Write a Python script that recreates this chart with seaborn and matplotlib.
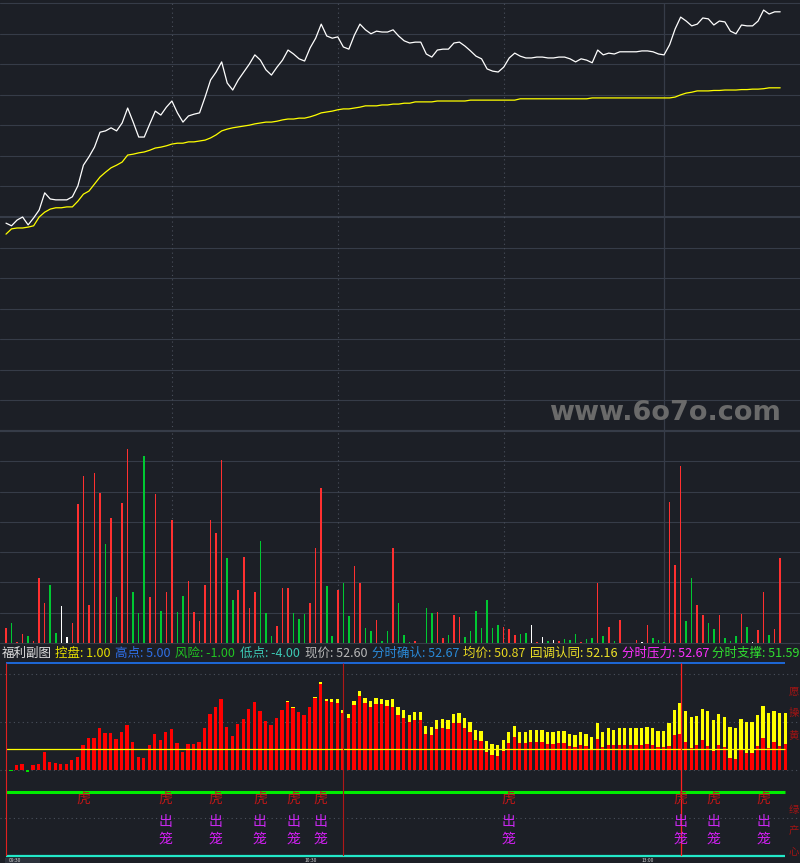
import numpy as np
import pandas as pd
import matplotlib
matplotlib.use('Agg')
import matplotlib.pyplot as plt
import seaborn as sns

# 分时数据 (每分钟一根, 09:30 起)
price = [47.79, 47.73, 47.86, 47.93, 47.75, 47.91, 48.09, 48.48, 48.34, 48.32,
         48.32, 48.32, 48.39, 48.64, 49.11, 49.30, 49.52, 49.86, 49.89, 49.96,
         49.89, 50.07, 50.41, 50.09, 49.75, 49.75, 50.05, 50.34, 50.25, 50.43,
         50.57, 50.30, 50.09, 50.23, 50.27, 50.30, 50.66, 51.05, 51.23, 51.46,
         50.98, 50.82, 51.05, 51.23, 51.41, 51.62, 51.50, 51.28, 51.16, 51.34,
         51.50, 51.73, 51.64, 51.53, 51.48, 51.78, 52.00, 52.32, 52.05, 52.00,
         52.03, 51.80, 51.75, 52.07, 52.32, 52.19, 52.10, 52.16, 52.14, 52.14,
         52.19, 52.05, 51.94, 51.89, 51.91, 51.91, 51.64, 51.57, 51.73, 51.75,
         51.75, 51.89, 51.91, 51.82, 51.71, 51.59, 51.53, 51.30, 51.25, 51.23,
         51.34, 51.55, 51.66, 51.59, 51.55, 51.55, 51.57, 51.57, 51.55, 51.55,
         51.57, 51.57, 51.53, 51.46, 51.53, 51.50, 51.44, 51.73, 51.62, 51.66,
         51.64, 51.69, 51.69, 51.69, 51.69, 51.71, 51.71, 51.69, 51.64, 51.62,
         51.85, 52.21, 52.48, 52.39, 52.28, 52.32, 52.46, 52.44, 52.30, 52.39,
         52.37, 52.16, 52.10, 52.30, 52.28, 52.28, 52.39, 52.64, 52.55, 52.60,
         52.60]

avg_price = [47.54, 47.66, 47.68, 47.68, 47.70, 47.73, 47.93, 48.04, 48.11, 48.14,
             48.14, 48.16, 48.16, 48.29, 48.45, 48.52, 48.68, 48.84, 48.95, 49.05,
             49.11, 49.18, 49.34, 49.36, 49.39, 49.41, 49.45, 49.50, 49.52, 49.55,
             49.59, 49.61, 49.61, 49.64, 49.64, 49.66, 49.68, 49.73, 49.80, 49.89,
             49.93, 49.96, 49.98, 50.00, 50.02, 50.05, 50.07, 50.09, 50.09, 50.11,
             50.14, 50.16, 50.16, 50.18, 50.18, 50.21, 50.25, 50.30, 50.32, 50.34,
             50.37, 50.39, 50.39, 50.41, 50.43, 50.46, 50.46, 50.46, 50.48, 50.48,
             50.50, 50.50, 50.52, 50.52, 50.55, 50.55, 50.55, 50.55, 50.57, 50.57,
             50.57, 50.57, 50.57, 50.57, 50.59, 50.59, 50.59, 50.59, 50.59, 50.59,
             50.59, 50.59, 50.59, 50.62, 50.62, 50.62, 50.62, 50.62, 50.62, 50.62,
             50.62, 50.62, 50.62, 50.62, 50.62, 50.62, 50.64, 50.64, 50.64, 50.64,
             50.64, 50.64, 50.64, 50.64, 50.64, 50.64, 50.64, 50.64, 50.64, 50.64,
             50.64, 50.66, 50.71, 50.75, 50.77, 50.80, 50.80, 50.80, 50.81, 50.81,
             50.82, 50.82, 50.82, 50.83, 50.83, 50.84, 50.84, 50.85, 50.87, 50.87,
             50.87]

volume = [147, 200, 10, 87, 67, 20, 650, 400, 580, 100,
          370, 60, 200, 1390, 1670, 380, 1700, 1500, 990, 1250,
          460, 1400, 1940, 510, 300, 1870, 460, 1490, 320, 510,
          1230, 310, 470, 620, 310, 220, 580, 1230, 1100, 1830,
          850, 430, 530, 860, 350, 510, 1020, 300, 70, 170,
          550, 550, 300, 240, 290, 400, 950, 1550, 570, 70,
          530, 600, 270, 770, 600, 150, 120, 230, 20, 120,
          950, 400, 77, 7, 20, 0, 350, 300, 310, 50,
          77, 280, 260, 60, 120, 320, 150, 430, 150, 180,
          160, 140, 80, 90, 100, 180, 10, 60, 20, 30,
          20, 40, 30, 90, 10, 40, 50, 600, 70, 160,
          20, 230, 0, 0, 30, 10, 180, 50, 30, 10,
          1410, 780, 1770, 220, 650, 380, 280, 200, 140, 280,
          50, 20, 70, 290, 160, 10, 130, 510, 80, 140,
          850]
vol_dir = list("RGRRGRRRGG" "WWRRRRRRGR" "GRRGGGRRGR" "RGGRRRRRRR"
               "GGRRRRGGGR" "RRGGGRRRGG" "RGGRRGGRGG" "RGGGRGGGRR"
               "GRRGGGGGGG" "RRRGGWRWGW" "RGGGRGGRGR" "GRGGRWRGGG"
               "RRRGGRRGGR" "GGGRGWRRGR" "R")

# 福利副图: 红柱 / 黄柱
signal_red = [-0.03, 0.23, 0.28, -0.08, 0.23, 0.28, 0.84, 0.37, 0.33, 0.28,
              0.28, 0.47, 0.61, 1.17, 1.49, 1.49, 1.96, 1.73, 1.73, 1.45,
              1.77, 2.10, 1.31, 0.61, 0.56, 1.17, 1.68, 1.40, 1.77, 1.91,
              1.26, 0.84, 1.21, 1.21, 1.31, 1.96, 2.61, 2.94, 3.31, 2.01,
              1.59, 2.15, 2.38, 2.85, 3.17, 2.75, 2.29, 2.10, 2.43, 2.80,
              3.17, 2.89, 2.71, 2.57, 2.94, 3.36, 4.01, 3.22, 3.17, 3.12,
              2.66, 2.43, 3.03, 3.45, 3.12, 2.94, 3.08, 3.08, 2.99, 2.94,
              2.57, 2.43, 2.24, 2.33, 2.33, 1.68, 1.63, 1.91, 1.96, 1.91,
              2.19, 2.19, 1.96, 1.77, 1.40, 1.35, 0.84, 0.70, 0.65, 0.89,
              1.26, 1.54, 1.26, 1.26, 1.31, 1.31, 1.31, 1.21, 1.21, 1.26,
              1.26, 1.12, 1.07, 1.17, 1.12, 0.93, 1.45, 1.07, 1.17, 1.17,
              1.17, 1.17, 1.17, 1.17, 1.17, 1.21, 1.17, 1.07, 1.07, 1.12,
              1.63, 1.68, 1.31, 1.03, 1.17, 1.40, 1.12, 0.89, 1.17, 1.07,
              0.56, 0.51, 0.93, 0.79, 0.79, 1.12, 1.49, 1.03, 1.31, 1.12,
              1.21]
# 黄柱从第50根开始露出
signal_yellow_tail = [3.22, 2.94, 2.71, 2.57, 2.94, 3.40, 4.10, 3.31, 3.31, 3.31,
                      2.80, 2.61, 3.22, 3.68, 3.36, 3.22, 3.36, 3.31, 3.26, 3.31,
                      2.94, 2.80, 2.57, 2.71, 2.71, 2.05, 2.01, 2.33, 2.38, 2.33,
                      2.61, 2.66, 2.43, 2.24, 1.87, 1.82, 1.35, 1.21, 1.17, 1.40,
                      1.77, 2.05, 1.77, 1.77, 1.87, 1.87, 1.87, 1.77, 1.77, 1.82,
                      1.82, 1.68, 1.63, 1.77, 1.68, 1.54, 2.19, 1.77, 1.96, 1.87,
                      1.96, 1.96, 1.96, 1.96, 1.96, 2.01, 1.96, 1.82, 1.82, 2.19,
                      2.80, 3.12, 2.75, 2.47, 2.52, 2.85, 2.75, 2.33, 2.61, 2.47,
                      2.01, 1.96, 2.38, 2.24, 2.24, 2.57, 2.98, 2.66, 2.75, 2.66,
                      2.66]
tiger_idx = [13, 28, 37, 45, 51, 56, 90, 121, 127, 136]
cage_idx = [28, 37, 45, 51, 56, 90, 121, 127, 136]

pre_close = 47.93
kongpan, gaodian, fengxian, didian = 1.00, 5.00, -1.00, -4.00

header = [("福利副图", "", 2, '#e0e0e0'),
          ("控盘", "1.00", 55, '#e8e000'),
          ("高点", "5.00", 115, '#2f6fe8'),
          ("风险", "-1.00", 175, '#22c422'),
          ("低点", "-4.00", 240, '#3cc8b4'),
          ("现价", "52.60", 305, '#b8b8b8'),
          ("分时确认", "52.67", 372, '#2a8ad8'),
          ("均价", "50.87", 463, '#e8d820'),
          ("回调认同", "52.16", 530, '#f0e428'),
          ("分时压力", "52.67", 622, '#ff30ff'),
          ("分时支撑", "51.59", 712, '#30e030')]

sns.set_style("dark", {"axes.facecolor": "#1c1f26", "figure.facecolor": "#1c1f26"})
plt.rcParams['font.family'] = ['Noto Sans CJK SC', 'DejaVu Sans']

W, H = 800, 863
bg = '#1c1f26'
grid_c = '#363c48'
dot_c = '#4a505c'

fig = plt.figure(figsize=(8, 8.63), dpi=100, facecolor=bg)

def box(top, bottom):
    return [0, (H - bottom) / H, 1, (bottom - top) / H]

n = len(price)
minute = np.arange(n)
step = 5.53

# ---------------- 价格 ----------------
ax1 = fig.add_axes(box(3, 431))
ax1.set_xlim(-6 / step, (W - 6) / step)
half = 214 * 0.02276
ax1.set_ylim(pre_close - half, pre_close + half)
for k in range(-7, 8):
    lw = 1.5 if k in (0, -7) else 0.8
    ax1.axhline(pre_close + k * half / 7, color=grid_c, lw=lw, zorder=0, clip_on=False)
for m in (30, 60, 90):
    ax1.axvline(m, color=dot_c, lw=0.8, ls=(0, (1, 3)), zorder=0)
ax1.axvline(119, color=grid_c, lw=0.9, zorder=0)
sns.lineplot(x=minute, y=avg_price, color='#ffff00', lw=0.9, errorbar=None, ax=ax1)
sns.lineplot(x=minute, y=price, color='#ffffff', lw=0.9, errorbar=None, ax=ax1)
ax1.axis('off')
ax1.text(781 / 800, (431 - 420) / 428, "www.6o7o.com", transform=ax1.transAxes,
         ha='right', va='baseline', fontsize=19.5, fontweight='bold',
         color='#6a6a6a', family='DejaVu Sans')

# ---------------- 成交量 ----------------
ax2 = fig.add_axes(box(431, 643))
ax2.set_xlim(-6 / step, (W - 6) / step)
ax2.set_ylim(0, 2120)
for k in range(0, 8):
    lw = 1.5 if k == 7 else 0.8
    ax2.axhline(k * 2120 / 7, color=grid_c, lw=lw, zorder=0, clip_on=False)
for m in (30, 60, 90):
    ax2.axvline(m, color=dot_c, lw=0.8, ls=(0, (1, 3)), zorder=0)
ax2.axvline(119, color=grid_c, lw=0.9, zorder=0)
vol_df = pd.DataFrame({'minute': minute, 'volume': volume, 'dir': vol_dir})
sns.barplot(data=vol_df, x='minute', y='volume', hue='dir', native_scale=True,
            palette={'R': '#ff3030', 'G': '#00c832', 'W': '#ffffff'},
            dodge=False, width=0.28, saturation=1, errorbar=None, legend=False,
            linewidth=0, ax=ax2)
ax2.axis('off')

# ---------------- 标题栏 ----------------
yh = (H - 653) / H
for name, val, xp, col in header:
    s = name if not val else f"{name}: {val}"
    fig.text(xp / W, yh, s, color=col, fontsize=9, va='center', ha='left')

# ---------------- 福利副图 ----------------
ax3 = fig.add_axes(box(663, 856))
x0 = -11 / step
ax3.set_xlim(x0, (W - 11) / step)
ax3.set_ylim(didian, gaodian)
xa, xb = (6 - 11) / step, (785 - 11) / step
for lv in (4.48, 2.24, 0, -2.24):
    ax3.axhline(lv, color=dot_c, lw=0.8, ls=(0, (1, 3)), zorder=0)

yellow = signal_red[:50] + signal_yellow_tail
sig_df = pd.DataFrame({'minute': minute, 'red': signal_red, 'yellow': yellow,
                       'dir': ['G' if v < 0 else 'R' for v in signal_red]})
sns.barplot(data=sig_df, x='minute', y='yellow', color='#ffff00', native_scale=True,
            width=0.6, saturation=1, errorbar=None, linewidth=0, ax=ax3)
sns.barplot(data=sig_df, x='minute', y='red', hue='dir', native_scale=True,
            palette={'R': '#ff0000', 'G': '#00e000'}, dodge=False, width=0.6,
            saturation=1, errorbar=None, legend=False, linewidth=0, ax=ax3)

ax3.hlines(kongpan, xa, xb, color='#ffff00', lw=0.9, zorder=3)
ax3.hlines(fengxian, xa, xb, color='#00ee00', lw=2.2, zorder=3)
ax3.hlines(gaodian, xa, xb, color='#1e6ee6', lw=1.3, zorder=3, clip_on=False)
ax3.hlines(didian, xa, xb, color='#22e8c8', lw=1.6, zorder=3, clip_on=False)
ax3.vlines(xa, didian, gaodian, color='#e02020', lw=0.8, zorder=3)
ax3.vlines(60, didian, gaodian, color='#b01818', lw=0.8, zorder=3)
ax3.vlines(121.2, didian, gaodian, color='#ff2020', lw=0.9, zorder=3)

for m in tiger_idx:
    ax3.text(m, -1.35, "虎", color='#c01818', fontsize=10, ha='center', va='center', zorder=4)
for m in cage_idx:
    ax3.text(m, -2.43, "出", color='#c828f0', fontsize=10, ha='center', va='center', zorder=4)
    ax3.text(m, -3.17, "笼", color='#d020f0', fontsize=10, ha='center', va='center', zorder=4)

# 右侧竖排说明, 缩小以完整显示
xr = (788.5 - 11) / step
for ch, yv in zip("愿操黄", (3.64, 2.66, 1.63)):
    ax3.text(xr, yv, ch, color='#a01414', fontsize=7.5, ha='left', va='center', clip_on=False)
for ch, yv in zip("绿产心", (-1.87, -2.80, -3.82)):
    ax3.text(xr, yv, ch, color='#a01414', fontsize=7.5, ha='left', va='center', clip_on=False)
ax3.axis('off')

# 时间轴 (底部窄条)
fig.patches.append(plt.Rectangle((5 / W, 0), 35 / W, 5 / H, transform=fig.transFigure,
                                 facecolor='#2c313b', edgecolor='none'))
for lab, xp in (("09:30", 9), ("10:30", 305), ("13:00", 642)):
    fig.text(xp / W, 0.3 / H, lab, color='#d0d0d0', fontsize=3.6, va='bottom', ha='left')

fig.savefig('out.png', dpi=100, facecolor=bg)
